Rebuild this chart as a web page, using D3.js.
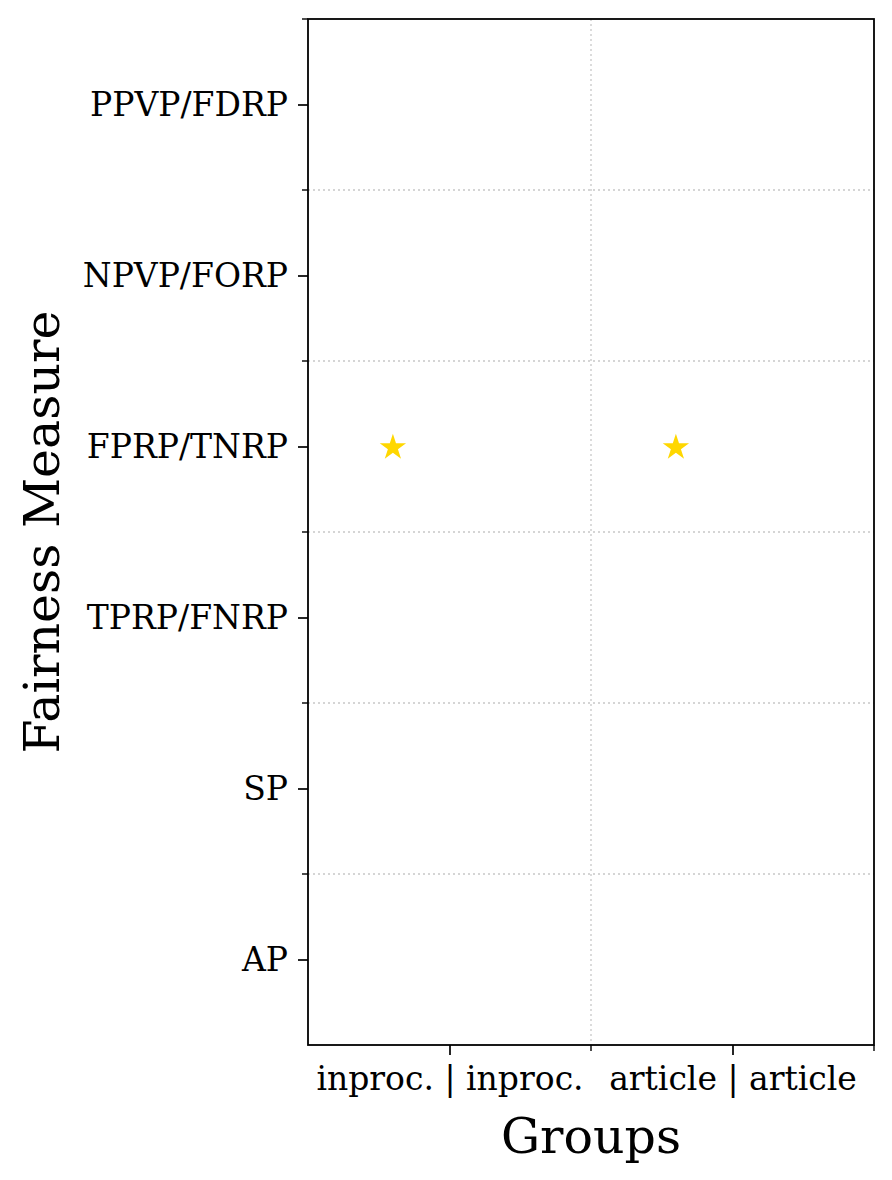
<!DOCTYPE html>
<html>
<head>
<meta charset="utf-8">
<script src="https://cdn.jsdelivr.net/npm/d3@7"></script>
<style>
  html, body { margin: 0; padding: 0; background: #fff; }
  svg { display: block; }
  text { font-family: "DejaVu Serif", "Liberation Serif", serif; fill: #000; }
</style>
</head>
<body>
<svg id="chart" width="892" height="1180"></svg>
<script>
// ---- data ----
const measures = ["PPVP/FDRP", "NPVP/FORP", "FPRP/TNRP", "TPRP/FNRP", "SP", "AP"];
const groups = ["inproc. | inproc.", "article | article"];
const pointGroups = ["inproc. | inproc.", "article | article"];
const pointMeasures = ["FPRP/TNRP", "FPRP/TNRP"];
const xLabel = "Groups";
const yLabel = "Fairness Measure";

// ---- layout ----
const m = { left: 308, top: 19, right: 874, bottom: 1045 };
const svg = d3.select("#chart");

const x = d3.scalePoint().domain(groups).range([m.left, m.right]).padding(0.5);
const y = d3.scalePoint().domain(measures).range([m.top, m.bottom]).padding(0.5);
const xs = x.step(), ys = y.step();

// grid lines at minor positions (between categories)
const gridColor = "#c8c8c8";
const xMinor = groups.slice(0, -1).map(g => x(g) + xs / 2);
const yMinor = measures.slice(0, -1).map(mm => y(mm) + ys / 2);

svg.append("g").selectAll("line").data(xMinor).join("line")
  .attr("x1", d => d).attr("x2", d => d)
  .attr("y1", m.top).attr("y2", m.bottom)
  .attr("stroke", gridColor).attr("stroke-width", 1.3).attr("stroke-dasharray", "2,3");
svg.append("g").selectAll("line").data(yMinor).join("line")
  .attr("y1", d => d).attr("y2", d => d)
  .attr("x1", m.left).attr("x2", m.right)
  .attr("stroke", gridColor).attr("stroke-width", 1.3).attr("stroke-dasharray", "2,3");

// axes
const xAxis = svg.append("g").attr("transform", `translate(0,${m.bottom})`)
  .call(d3.axisBottom(x).tickSize(10).tickSizeOuter(0).tickPadding(12));
const yAxis = svg.append("g").attr("transform", `translate(${m.left},0)`)
  .call(d3.axisLeft(y).tickSize(10).tickSizeOuter(0).tickPadding(10));
[xAxis, yAxis].forEach(a => {
  a.select(".domain").remove();
  a.selectAll("line").attr("stroke", "#000").attr("stroke-width", 1.7);
  a.selectAll("text").style("font-family", "'DejaVu Serif', serif").attr("font-size", 33).attr("fill", "#000");
});

// minor ticks
const xMinorTicks = xMinor.concat([x(groups[groups.length - 1]) + xs / 2]);
svg.append("g").selectAll("line").data(xMinorTicks).join("line")
  .attr("x1", d => d).attr("x2", d => d).attr("y1", m.bottom).attr("y2", m.bottom + 6)
  .attr("stroke", "#000").attr("stroke-width", 1.4);
const yMinorTicks = [y(measures[0]) - ys / 2].concat(yMinor);
svg.append("g").selectAll("line").data(yMinorTicks).join("line")
  .attr("y1", d => d).attr("y2", d => d).attr("x1", m.left - 6).attr("x2", m.left)
  .attr("stroke", "#000").attr("stroke-width", 1.4);

// frame
svg.append("rect")
  .attr("x", m.left).attr("y", m.top)
  .attr("width", m.right - m.left).attr("height", m.bottom - m.top)
  .attr("fill", "none").attr("stroke", "#000").attr("stroke-width", 1.8);

// points (stars)
const star = d3.symbol().type(d3.symbolStar).size(215);
const pts = pointGroups.map((g, i) => ({ g, mm: pointMeasures[i] }));
svg.append("g").selectAll("path").data(pts).join("path")
  .attr("d", star)
  .attr("transform", d => `translate(${x(d.g) - 0.2 * xs},${y(d.mm) + 1})`)
  .attr("fill", "#FFD700");

// axis labels
svg.append("text")
  .attr("x", (m.left + m.right) / 2).attr("y", 1153)
  .attr("text-anchor", "middle").attr("font-size", 49)
  .text(xLabel);
svg.append("text")
  .attr("transform", `translate(59,${(m.top + m.bottom) / 2}) rotate(-90)`)
  .attr("text-anchor", "middle").attr("font-size", 49)
  .text(yLabel);
</script>
</body>
</html>
